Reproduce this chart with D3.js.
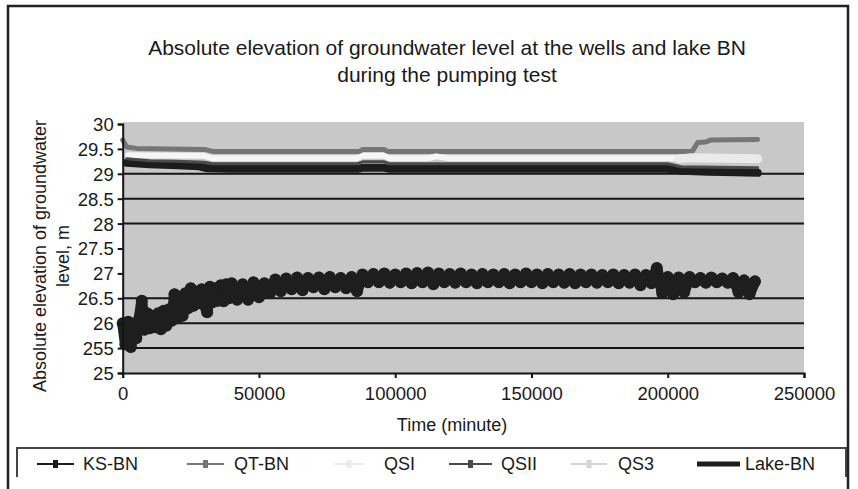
<!DOCTYPE html>
<html>
<head>
<meta charset="utf-8">
<script src="https://cdn.jsdelivr.net/npm/d3@7"></script>
<style>
  body { margin: 0; background: #fff; }
  text { font-family: "Liberation Sans", Arial, sans-serif; fill: #1a1a1a; }
</style>
</head>
<body>
<div id="chart"></div>
<script>
// data
var seriesNames = ["KS-BN", "QT-BN", "QSI", "QSII", "QS3", "Lake-BN"];

var ksT = [1500, 10000, 20000, 28000, 31000, 40000, 86000, 88000, 96000, 98000, 200000, 205000, 215000, 225000, 233000];
var ksV = [29.22, 29.19, 29.17, 29.15, 29.11, 29.1, 29.1, 29.12, 29.12, 29.1, 29.1, 29.06, 29.04, 29.03, 29.02];

var qtT = [0, 1500, 5000, 30000, 33000, 87000, 88000, 96000, 97000, 204000, 209000, 211000, 214000, 216000, 233000];
var qtV = [29.68, 29.54, 29.51, 29.49, 29.45, 29.45, 29.49, 29.49, 29.45, 29.45, 29.45, 29.63, 29.64, 29.68, 29.69];

var qsiT = [2000, 30000, 33000, 86000, 88000, 96000, 98000, 112000, 115000, 120000, 204000, 210000, 233000];
var qsiV = [29.37, 29.36, 29.31, 29.31, 29.36, 29.36, 29.31, 29.31, 29.35, 29.31, 29.31, 29.31, 29.31];

var qsiiT = [1500, 10000, 20000, 30000, 33000, 86000, 88000, 96000, 98000, 200000, 205000, 233000];
var qsiiV = [29.3, 29.26, 29.25, 29.23, 29.2, 29.2, 29.24, 29.24, 29.2, 29.2, 29.14, 29.12];

var qs3T = [204000, 208000, 220000, 233000];
var qs3V = [29.3, 29.32, 29.31, 29.3];

var lakeT = [0, 1000, 2000, 3000, 4000, 5000, 6000, 7000, 8000, 9000, 10000, 11000, 12000, 13000, 14000, 15000,
  16000, 17000, 18000, 19000, 20000, 21000, 22000, 23000, 24000, 25000, 26000, 27000, 28000, 29000, 30000,
  31000, 32000, 33000, 34000, 35000, 36000, 37000, 38000, 39000, 40000,
  42000, 44000, 46000, 48000, 50000, 52000, 54000, 56000, 58000, 60000,
  62000, 64000, 66000, 68000, 70000, 72000, 74000, 76000, 78000, 80000, 82000, 84000, 86000, 88000, 90000,
  92000, 94000, 96000, 98000, 100000, 102000, 104000, 106000, 108000, 110000, 112000, 114000, 116000, 118000,
  120000, 122000, 124000, 126000, 128000, 130000, 132000, 134000, 136000, 138000, 140000, 142000, 144000,
  146000, 148000, 150000, 152000, 154000, 156000, 158000, 160000, 162000, 164000, 166000, 168000, 170000,
  172000, 174000, 176000, 178000, 180000, 182000, 184000, 186000, 188000, 190000, 192000, 194000, 196000,
  198000, 200000, 202000, 204000, 206000, 208000, 210000, 212000, 214000, 216000, 218000, 220000, 222000,
  224000, 226000, 228000, 230000, 232000];
var lakeV = [26.0, 25.57, 26.03, 25.52, 25.95, 25.7, 26.08, 26.45, 25.87, 26.2, 25.9, 26.15, 25.92, 26.2, 25.88, 26.25,
  25.95, 26.28, 26.05, 26.58, 26.1, 26.53, 26.15, 26.6, 26.3, 26.7, 26.35, 26.63, 26.4, 26.68, 26.37,
  26.22, 26.73, 26.42, 26.7, 26.45, 26.76, 26.44, 26.78, 26.5, 26.8,
  26.47, 26.78, 26.47, 26.82, 26.52, 26.8, 26.6, 26.88, 26.64, 26.9,
  26.68, 26.92, 26.66, 26.91, 26.72, 26.92, 26.68, 26.93, 26.72, 26.91, 26.7, 26.93, 26.64, 26.98, 26.82,
  26.99, 26.82, 27.0, 26.81, 26.98, 26.82, 27.0, 26.8, 27.01, 26.82, 27.02, 26.78, 27.0, 26.82,
  26.99, 26.81, 27.0, 26.82, 26.98, 26.8, 26.99, 26.82, 26.98, 26.82, 26.99, 26.8, 26.98,
  26.82, 27.0, 26.82, 26.98, 26.8, 26.99, 26.82, 26.98, 26.81, 26.99, 26.8, 26.98, 26.82,
  26.98, 26.81, 26.97, 26.82, 26.98, 26.8, 26.97, 26.81, 26.98, 26.76, 26.97, 26.8, 27.11,
  26.6, 26.93, 26.58, 26.92, 26.62, 26.93, 26.82, 26.91, 26.81, 26.92, 26.82, 26.9, 26.81,
  26.91, 26.62, 26.86, 26.58, 26.84];

var yTicks = [30, 29.5, 29, 28.5, 28, 27.5, 27, 26.5, 26, 25.5, 25];
var yTickLabels = ["30", "29.5", "29", "28.5", "28", "27.5", "27", "26.5", "26", "255", "25"];
var gridValues = [29, 28.5, 28, 26.5, 26, 25.5];
var xTicks = [0, 50000, 100000, 150000, 200000, 250000];

var W = 858, H = 489;
var plot = { left: 122.7, right: 804, top: 124, bottom: 373 };

var svg = d3.select("#chart").append("svg")
    .attr("width", W)
    .attr("height", H);

// outer frame
svg.append("rect")
    .attr("x", 8).attr("y", 6)
    .attr("width", 840).attr("height", 500)
    .attr("fill", "#fff")
    .attr("stroke", "#222")
    .attr("stroke-width", 2.5);

var x = d3.scaleLinear().domain([0, 250000]).range([plot.left, plot.right]);
var y = d3.scaleLinear().domain([25, 30]).range([plot.bottom, plot.top]);

// plot background
svg.append("rect")
    .attr("x", plot.left).attr("y", plot.top - 2)
    .attr("width", plot.right - plot.left)
    .attr("height", plot.bottom - plot.top + 2)
    .attr("fill", "#c8c8c8");

// gridlines
svg.selectAll(".grid")
    .data(gridValues)
    .enter().append("line")
    .attr("class", "grid")
    .attr("x1", plot.left).attr("x2", plot.right)
    .attr("y1", function (d) { return y(d); })
    .attr("y2", function (d) { return y(d); })
    .attr("stroke", "#151515")
    .attr("stroke-width", 2);

// title
var title = svg.append("text")
    .attr("text-anchor", "middle")
    .style("font-size", "21px");
title.append("tspan").attr("x", 447).attr("y", 55).text("Absolute elevation of groundwater level at the wells and lake BN");
title.append("tspan").attr("x", 447).attr("y", 82).text("during the pumping test");

// series
var series = [
    { name: "KS-BN", t: ksT, v: ksV, color: "#1c1c1c", width: 8 },
    { name: "QT-BN", t: qtT, v: qtV, color: "#767676", width: 5 },
    { name: "QSI", t: qsiT, v: qsiV, color: "#f6f6f6", width: 6 },
    { name: "QSII", t: qsiiT, v: qsiiV, color: "#4a4a4a", width: 3 },
    { name: "QS3", t: qs3T, v: qs3V, color: "#eaeaea", width: 9 },
    { name: "Lake-BN", t: lakeT, v: lakeV, color: "#1e1e1e", width: 11 }
];

var line = d3.line()
    .x(function (d) { return x(d[0]); })
    .y(function (d) { return y(d[1]); });

series.forEach(function (s) {
    var pts = s.t.map(function (t, i) { return [t, s.v[i]]; });
    svg.append("path")
        .datum(pts)
        .attr("fill", "none")
        .attr("stroke", s.color)
        .attr("stroke-width", s.width)
        .attr("stroke-linejoin", "round")
        .attr("stroke-linecap", "round")
        .attr("d", line);
    if (s.name === "Lake-BN") {
        svg.append("g").selectAll("circle")
            .data(pts)
            .enter().append("circle")
            .attr("cx", function (d) { return x(d[0]); })
            .attr("cy", function (d) { return y(d[1]); })
            .attr("r", 6)
            .attr("fill", s.color);
    }
});

// axes
var yAxis = svg.append("g")
    .attr("transform", "translate(" + plot.left + ",0)")
    .call(d3.axisLeft(y).tickValues(yTicks).tickSize(5)
        .tickFormat(function (d, i) { return yTickLabels[i]; }));
var xAxis = svg.append("g")
    .attr("transform", "translate(0," + plot.bottom + ")")
    .call(d3.axisBottom(x).tickValues(xTicks).tickSize(5).tickFormat(d3.format("d")));

[yAxis, xAxis].forEach(function (a) {
    a.select(".domain").attr("stroke", "#151515").attr("stroke-width", 2);
    a.selectAll(".tick line").attr("stroke", "#151515").attr("stroke-width", 2);
    a.selectAll(".tick text")
        .style("font-family", "'Liberation Sans', Arial, sans-serif")
        .style("font-size", "18.5px")
        .attr("fill", "#1a1a1a");
});
yAxis.selectAll(".tick text").attr("x", -9).attr("dy", "0.35em");
xAxis.selectAll(".tick text").attr("y", 14);

// axis titles
var yTitle = svg.append("text")
    .attr("transform", "translate(46,256) rotate(-90)")
    .attr("text-anchor", "middle")
    .style("font-size", "18px");
yTitle.append("tspan").attr("x", 0).attr("y", 0).text("Absolute elevation of groundwater");
yTitle.append("tspan").attr("x", 0).attr("y", 23).text("level, m");

svg.append("text")
    .attr("x", 452).attr("y", 431)
    .attr("text-anchor", "middle")
    .style("font-size", "18px")
    .text("Time (minute)");

// legend
svg.append("path")
    .attr("d", "M17,477 V448 H846 V477")
    .attr("fill", "none")
    .attr("stroke", "#444")
    .attr("stroke-width", 2);

var legendX = [37, 187, 334, 449, 571, 697];
var legendLen = [37, 37, 30, 43, 36, 43];
var legendTextX = [83, 234, 384, 501, 618, 745];
var legendColor = ["#1c1c1c", "#767676", "#ececec", "#4a4a4a", "#d4d4d4", "#1e1e1e"];

var legend = svg.selectAll(".legend")
    .data(series)
    .enter().append("g")
    .attr("class", "legend");

legend.append("line")
    .attr("x1", function (d, i) { return legendX[i]; })
    .attr("x2", function (d, i) { return legendX[i] + legendLen[i]; })
    .attr("y1", 464).attr("y2", 464)
    .attr("stroke", function (d, i) { return legendColor[i]; })
    .attr("stroke-width", function (d) { return d.name === "Lake-BN" ? 5 : 2; });

legend.filter(function (d) { return d.name !== "Lake-BN"; })
    .append("rect")
    .attr("x", function (d, i) { return legendX[i] + legendLen[i] / 2 - 2.5; })
    .attr("y", 460)
    .attr("width", 5).attr("height", 8)
    .attr("fill", function (d, i) { return legendColor[i]; });

legend.append("text")
    .attr("x", function (d, i) { return legendTextX[i]; })
    .attr("y", 464)
    .attr("dy", "0.35em")
    .style("font-size", "18px")
    .text(function (d) { return d.name; });
</script>
</body>
</html>
